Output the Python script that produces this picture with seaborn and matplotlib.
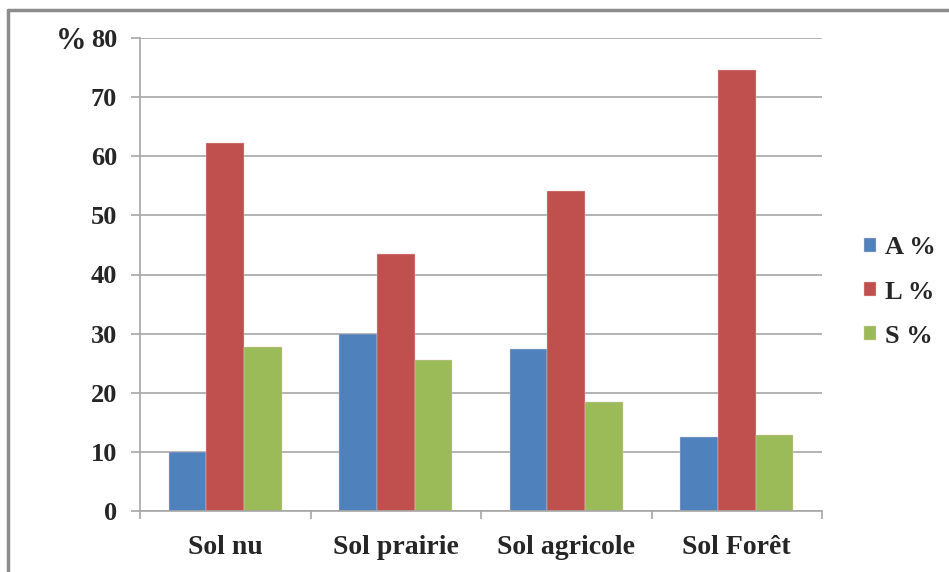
import pandas as pd
import matplotlib.pyplot as plt
import seaborn as sns
from matplotlib.lines import Line2D

# data
categories = ["Sol nu", "Sol prairie", "Sol agricole", "Sol Forêt"]
series = ["A %", "L %", "S %"]
a_values = [10.0, 30.0, 27.4, 12.5]
l_values = [62.2, 43.5, 54.1, 74.6]
s_values = [27.7, 25.6, 18.4, 12.8]
colors = ["#4F81BD", "#C0504D", "#9BBB59"]

df = pd.DataFrame({
    "sol": categories * 3,
    "serie": [s for s in series for _ in categories],
    "valeur": a_values + l_values + s_values,
})

sns.set_style("white")
plt.rcParams["font.family"] = ["Liberation Serif", "DejaVu Serif"]
plt.rcParams["font.weight"] = "bold"

fig = plt.figure(figsize=(9.49, 5.72), dpi=100)
ax = fig.add_axes([140 / 949, 1 - 511 / 572, (822 - 140) / 949, (511 - 38) / 572])

sns.barplot(data=df, x="sol", y="valeur", hue="serie", order=categories,
            hue_order=series, palette=colors, width=0.665, saturation=1,
            edgecolor="#f0c8c8", linewidth=0.3, ax=ax)

ax.set_ylim(0, 80)
ax.set_xlim(-0.5, 3.5)
ax.set_yticks(range(0, 81, 10))
ax.yaxis.grid(True, color="#a6a6a6", linewidth=1.2)
ax.set_axisbelow(True)
ax.set_xlabel("")
ax.set_ylabel("")

for side in ["top", "right"]:
    ax.spines[side].set_visible(False)
for side in ["left", "bottom"]:
    ax.spines[side].set_color("#a6a6a6")
    ax.spines[side].set_linewidth(1.2)

ax.tick_params(axis="y", which="major", left=True, length=6.5, width=1.2,
               color="#a6a6a6", labelsize=19, pad=10)
ax.tick_params(axis="x", which="major", bottom=False, labelsize=20, pad=14)
ax.set_xticks([-0.5, 0.5, 1.5, 2.5, 3.5], minor=True)
ax.tick_params(axis="x", which="minor", bottom=True, length=6, width=1.2,
               color="#a6a6a6")
for lbl in ax.get_xticklabels() + ax.get_yticklabels():
    lbl.set_fontweight("bold")

ax.text(-0.079, 80, "%", transform=ax.get_yaxis_transform(), ha="right",
        va="center_baseline", fontsize=22, fontweight="bold")

leg = ax.legend(loc="center left", bbox_to_anchor=(1.062, 0.463), frameon=False,
                handlelength=0.45, handleheight=0.45, borderpad=0, borderaxespad=0,
                handletextpad=0.35, labelspacing=0.8, prop={"weight": "bold", "size": 19})

# chart frame edges
fig.add_artist(Line2D([8 / 949, 8 / 949], [0, 1 - 10 / 572], color="#8c8c8c", linewidth=2.5))
fig.add_artist(Line2D([8 / 949, 1], [1 - 10 / 572, 1 - 10 / 572], color="#8c8c8c", linewidth=2.5))

fig.savefig("out.png", dpi=100)
